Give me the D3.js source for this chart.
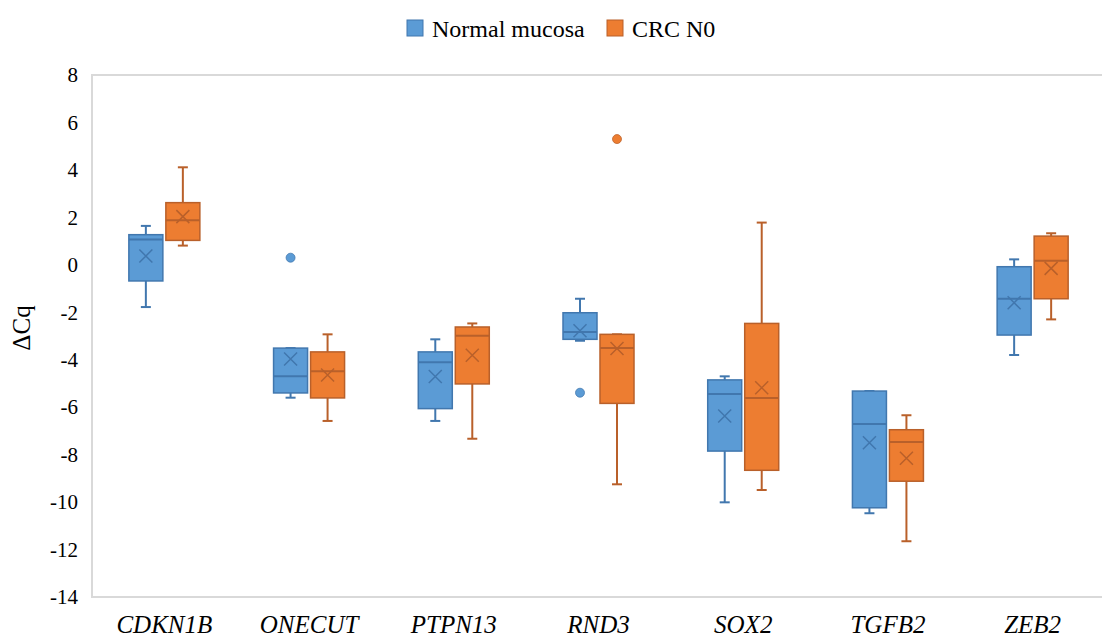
<!DOCTYPE html>
<html>
<head>
<meta charset="utf-8">
<script src="https://cdn.jsdelivr.net/npm/d3@7"></script>
<style>
  body { margin: 0; background: #fff; }
  svg { display: block; }
  svg text { font-family: "Liberation Serif", Tinos, "DejaVu Serif", serif; }
</style>
</head>
<body>
<svg width="1102" height="639"></svg>
<script>
const genes = ["CDKN1B", "ONECUT", "PTPN13", "RND3", "SOX2", "TGFB2", "ZEB2"];
const series = ["Normal mucosa", "CRC N0"];

// Normal mucosa box stats
const normalMin    = [-1.78, -5.60, -6.58, -3.20, -10.01, -10.47, -3.80];
const normalQ1     = [-0.68, -5.40, -6.06, -3.14,  -7.85, -10.24, -2.96];
const normalMedian = [ 1.07, -4.70, -4.11, -2.83,  -5.44,  -6.71, -1.43];
const normalQ3     = [ 1.27, -3.51, -3.67, -2.02,  -4.85,  -5.32, -0.08];
const normalMax    = [ 1.64, -3.51, -3.14, -1.43,  -4.70,  -5.32,  0.23];
const normalMean   = [ 0.37, -3.97, -4.71, -2.78,  -6.37,  -7.50, -1.60];
const normalOutliers = [["ONECUT", 0.30], ["RND3", -5.39]];

// CRC N0 box stats
const crcMin    = [0.81, -6.58, -7.33, -9.25, -9.49, -11.65, -2.30];
const crcQ1     = [1.03, -5.61, -5.02, -5.84, -8.66,  -9.12, -1.43];
const crcMedian = [1.88, -4.49, -2.99, -3.51, -5.61,  -7.47,  0.17];
const crcQ3     = [2.62, -3.67, -2.62, -2.93, -2.47,  -6.95,  1.21];
const crcMax    = [4.11, -2.93, -2.47, -2.93,  1.78,  -6.34,  1.33];
const crcMean   = [2.03, -4.64, -3.81, -3.53, -5.18,  -8.15, -0.15];
const crcOutliers = [["RND3", 5.30]];

const yTicks = [-14, -12, -10, -8, -6, -4, -2, 0, 2, 4, 6, 8];

const fills = ["#5B9BD5", "#ED7D31"];
const strokes = ["#4177AE", "#B9602A"];

const svg = d3.select("svg");
const plotLeft = 92, plotRight = 1105, plotTop = 75, plotBottom = 597;

const x = d3.scaleBand().domain(genes).range([plotLeft, plotRight]);
const half = 35.5;
const xSub = d3.scaleBand()
  .domain(series)
  .range([x.bandwidth() / 2 - half, x.bandwidth() / 2 + half])
  .paddingInner(3 / 37);
const y = d3.scaleLinear().domain([-14, 8]).range([plotBottom, plotTop]);

// plot frame
svg.append("rect")
  .attr("x", plotLeft).attr("y", plotTop)
  .attr("width", plotRight - plotLeft).attr("height", plotBottom - plotTop)
  .attr("fill", "none")
  .attr("stroke", "#d9d9d9")
  .attr("stroke-width", 2);

// y axis
const yAxis = svg.append("g")
  .attr("transform", `translate(${plotLeft},0)`)
  .call(d3.axisLeft(y).tickValues(yTicks).tickSize(0).tickPadding(14).tickFormat(d => String(d)));
yAxis.attr("font-family", null);
yAxis.select(".domain").remove();
yAxis.selectAll("text")
  .attr("font-size", 21)
  .attr("fill", "#000");

// x labels
const xAxis = svg.append("g")
  .attr("transform", `translate(0,${plotBottom})`)
  .call(d3.axisBottom(x).tickSize(0).tickPadding(0));
xAxis.attr("font-family", null);
xAxis.select(".domain").remove();
xAxis.selectAll("text")
  .attr("y", 36)
  .attr("dy", 0)
  .attr("font-size", 25)
  .attr("font-style", "italic")
  .attr("fill", "#000");

// y title
svg.append("text")
  .attr("transform", `translate(30,${(plotTop + plotBottom) / 2 - 8}) rotate(-90)`)
  .attr("text-anchor", "middle")
  .attr("font-size", 25)
  .text("ΔCq");

const stats = [
  { min: normalMin, q1: normalQ1, med: normalMedian, q3: normalQ3, max: normalMax, mean: normalMean, out: normalOutliers },
  { min: crcMin, q1: crcQ1, med: crcMedian, q3: crcQ3, max: crcMax, mean: crcMean, out: crcOutliers }
];

stats.forEach((s, si) => {
  const rows = genes.map((g, i) => ({
    gene: g, min: s.min[i], q1: s.q1[i], med: s.med[i], q3: s.q3[i], max: s.max[i], mean: s.mean[i]
  }));
  const g = svg.append("g");
  const bw = xSub.bandwidth();
  const cx = d => x(d.gene) + xSub(series[si]) + bw / 2;

  const box = g.selectAll("g.box").data(rows).enter().append("g").attr("class", "box");

  // whiskers
  box.append("line")
    .attr("x1", cx).attr("x2", cx)
    .attr("y1", d => y(d.q3)).attr("y2", d => y(d.max))
    .attr("stroke", strokes[si]).attr("stroke-width", 2);
  box.append("line")
    .attr("x1", cx).attr("x2", cx)
    .attr("y1", d => y(d.q1)).attr("y2", d => y(d.min))
    .attr("stroke", strokes[si]).attr("stroke-width", 2);
  box.append("line")
    .attr("x1", d => cx(d) - 5).attr("x2", d => cx(d) + 5)
    .attr("y1", d => y(d.max)).attr("y2", d => y(d.max))
    .attr("stroke", strokes[si]).attr("stroke-width", 2);
  box.append("line")
    .attr("x1", d => cx(d) - 5).attr("x2", d => cx(d) + 5)
    .attr("y1", d => y(d.min)).attr("y2", d => y(d.min))
    .attr("stroke", strokes[si]).attr("stroke-width", 2);

  // box
  box.append("rect")
    .attr("x", d => cx(d) - bw / 2)
    .attr("width", bw)
    .attr("y", d => y(d.q3))
    .attr("height", d => y(d.q1) - y(d.q3))
    .attr("fill", fills[si])
    .attr("stroke", strokes[si])
    .attr("stroke-width", 1.5);

  // median
  box.append("line")
    .attr("x1", d => cx(d) - bw / 2).attr("x2", d => cx(d) + bw / 2)
    .attr("y1", d => y(d.med)).attr("y2", d => y(d.med))
    .attr("stroke", strokes[si]).attr("stroke-width", 2);

  // mean marker
  const m = 6.5;
  box.append("path")
    .attr("d", d => {
      const px = cx(d), py = y(d.mean);
      return `M${px - m},${py - m}L${px + m},${py + m}M${px - m},${py + m}L${px + m},${py - m}`;
    })
    .attr("stroke", strokes[si]).attr("stroke-width", 1.5).attr("fill", "none");

  // outliers
  g.selectAll("circle").data(s.out).enter().append("circle")
    .attr("cx", d => x(d[0]) + xSub(series[si]) + bw / 2)
    .attr("cy", d => y(d[1]))
    .attr("r", 4.5)
    .attr("fill", fills[si])
    .attr("stroke", strokes[si])
    .attr("stroke-width", 0.75);
});

// legend
const legend = svg.append("g");
const legendX = [407, 607];
series.forEach((name, i) => {
  legend.append("rect")
    .attr("x", legendX[i]).attr("y", 20)
    .attr("width", 16).attr("height", 16)
    .attr("fill", fills[i])
    .attr("stroke", strokes[i])
    .attr("stroke-width", 1);
  legend.append("text")
    .attr("x", legendX[i] + 25).attr("y", 37)
    .attr("font-size", 24)
    .attr("fill", "#000")
    .text(name);
});
</script>
</body>
</html>
